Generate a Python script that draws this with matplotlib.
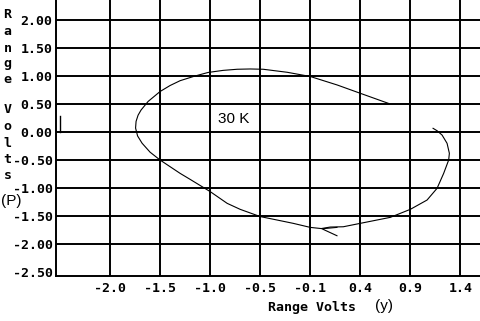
import matplotlib
matplotlib.use('Agg')
import matplotlib.pyplot as plt

# curve traced from the top right end, going round clockwise
curve_x = [1.227, 1.267, 1.317, 1.367, 1.39, 1.383, 1.333, 1.267, 1.167, 1.0,
           0.8, 0.5, 0.33, 0.2, 0.11, 0.0, -0.17, -0.33, -0.5, -0.7,
           -0.83, -1.0, -1.2, -1.3, -1.5, -1.6, -1.68, -1.725, -1.745, -1.74, -1.72, -1.69,
           -1.62, -1.5, -1.4, -1.3, -1.15, -1.02, -0.87, -0.73, -0.6, -0.47, -0.23, 0.0, 0.27, 0.5, 0.78]
curve_y = [0.066, 0.023, -0.054, -0.202, -0.38, -0.5, -0.738, -1.005, -1.214, -1.38,
           -1.523, -1.63, -1.691, -1.696, -1.723, -1.702, -1.63, -1.571, -1.509, -1.38,
           -1.273, -1.063, -0.845, -0.738, -0.5, -0.36, -0.2, -0.07, 0.071, 0.19, 0.3, 0.393,
           0.545, 0.723, 0.83, 0.916, 1.0, 1.063, 1.1, 1.12, 1.125, 1.12, 1.066, 0.991, 0.839, 0.691, 0.512]

# arrow head on the bottom of the loop
arrow_x = [0.267, 0.117, 0.267]
arrow_y = [-1.702, -1.727, -1.851]

# small marker at the left
mark_x = [-2.5, -2.5]
mark_y = [0.0, 0.29]

xticks = [-2.0, -1.5, -1.0, -0.5, 0.0, 0.5, 1.0, 1.5]
xlabels = ['-2.0', '-1.5', '-1.0', '-0.5', '-0.1', '0.4', '0.9', '1.4']
yticks = [2.0, 1.5, 1.0, 0.5, 0.0, -0.5, -1.0, -1.5, -2.0, -2.5]
ylabels = ['2.00', '1.50', '1.00', '0.50', '0.00', '-0.50', '-1.00', '-1.50', '-2.00', '-2.50']

W, H = 481, 321
fig = plt.figure(figsize=(W/100, H/100), dpi=100)
ax = fig.add_axes([56/W, (H-276.3)/H, (W-56)/W, 276.3/H])

mono = dict(family='DejaVu Sans Mono', weight='bold', size=9.5)
thin = dict(family='Liberation Sans', size=11)

for x in xticks:
    ax.axvline(x, color='black', lw=1.4, zorder=1)
for y in yticks[:-1]:
    ax.axhline(y, color='black', lw=1.4, zorder=1)

ax.plot(curve_x, curve_y, color='black', lw=0.8, zorder=3)
ax.plot(arrow_x, arrow_y, color='black', lw=0.8, zorder=3)
ax.plot(mark_x, mark_y, color='black', lw=1.0, zorder=3)

ax.text(-0.923, 0.232, '30 K', ha='left', va='center', **thin)

ax.set_xlim(-2.54, 1.706)
ax.set_ylim(-2.575, 2.356)
ax.set_xticks(xticks)
ax.set_xticklabels(xlabels, **mono)
ax.set_yticks(yticks)
ax.set_yticklabels(ylabels, **mono)
ax.tick_params(length=0)
ax.tick_params(axis='x', pad=4)
ax.tick_params(axis='y', pad=2.5)

for s in ['top', 'right']:
    ax.spines[s].set_visible(False)
for s in ['left', 'bottom']:
    ax.spines[s].set_linewidth(1.4)

def px(x, y):
    return x / W, 1 - y / H

# vertical y label, one letter per line
letters = ['R', 'a', 'n', 'g', 'e', 'V', 'o', 'l', 't', 's']
baselines = [18.3, 35, 51.7, 67.5, 82.7, 113.3, 130, 146.7, 163, 179.3]
for ch, b in zip(letters, baselines):
    fig.text(*px(7.5, b), ch, ha='center', va='baseline', **mono)
fig.text(*px(11, 201.5), '(P)', ha='center', va='center', **thin)

fig.text(*px(268, 308), 'Range Volts', ha='left', va='center', **mono)
fig.text(*px(375, 306), '(y)', ha='left', va='center', **thin)

fig.savefig('out.png', dpi=100)
